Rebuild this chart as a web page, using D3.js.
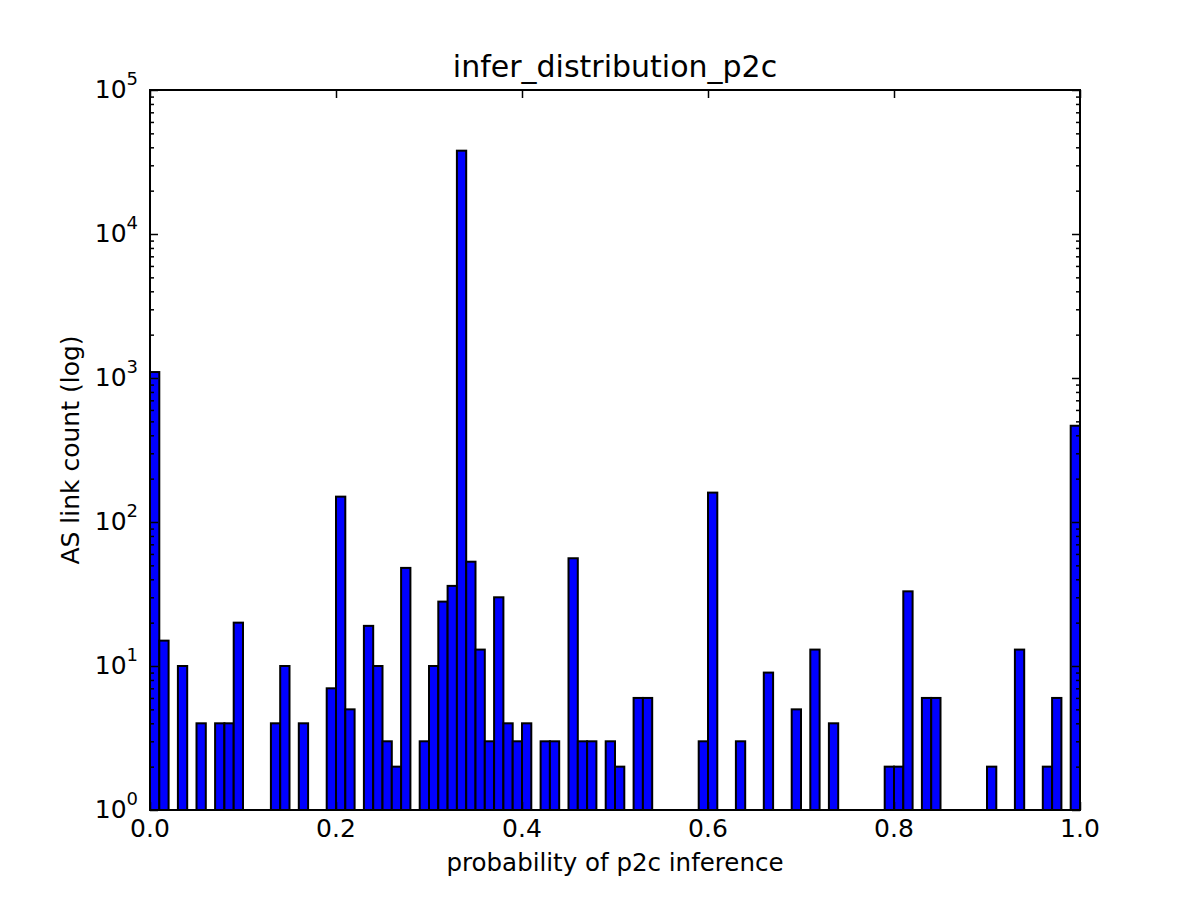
<!DOCTYPE html>
<html>
<head>
<meta charset="utf-8">
<script src="https://cdn.jsdelivr.net/npm/d3@7"></script>
<style>
  body { margin: 0; background: #fff; }
  svg text { font-family: "DejaVu Sans", sans-serif; fill: #000; }
</style>
</head>
<body>
<svg id="chart" width="1200" height="900"></svg>
<script>
// histogram of p2c inference probability, 100 bins on [0, 1]
const binCount = 100;
const counts = [
  1100, 15, 0, 10, 0, 4, 0, 4, 4, 20,
  0, 0, 0, 4, 10, 0, 4, 0, 0, 7,
  150, 5, 0, 19, 10, 3, 2, 48, 0, 3,
  10, 28, 36, 37900, 53, 13, 3, 30, 4, 3,
  4, 0, 3, 3, 0, 56, 3, 3, 0, 3,
  2, 0, 6, 6, 0, 0, 0, 0, 0, 3,
  160, 0, 0, 3, 0, 0, 9, 0, 0, 5,
  0, 13, 0, 4, 0, 0, 0, 0, 0, 2,
  2, 33, 0, 6, 6, 0, 0, 0, 0, 0,
  2, 0, 0, 13, 0, 0, 2, 6, 0, 466
];
const xTicks = [0, 0.2, 0.4, 0.6, 0.8, 1.0];
const yTicks = [1, 10, 100, 1000, 10000, 100000];

const titleText = "infer_distribution_p2c";
const xLabel = "probability of p2c inference";
const yLabel = "AS link count (log)";

const svg = d3.select("#chart");
const mLeft = 150, mRight = 1080, mTop = 90, mBottom = 810;

const x = d3.scaleLinear().domain([0, 1]).range([mLeft, mRight]);
const y = d3.scaleLog().domain([1, 1e5]).range([mBottom, mTop]);

// bars (skip empty bins, they vanish on a log axis)
const bins = counts.map((c, i) => ({ x0: i / binCount, x1: (i + 1) / binCount, c }))
  .filter(d => d.c > 0);

svg.append("g")
  .selectAll("rect")
  .data(bins)
  .join("rect")
  .attr("x", d => x(d.x0))
  .attr("width", d => x(d.x1) - x(d.x0))
  .attr("y", d => y(d.c))
  .attr("height", d => y(1) - y(d.c))
  .attr("fill", "#0000ff")
  .attr("stroke", "#000")
  .attr("stroke-width", 2);

// minor log ticks
const minor = y.ticks().filter(v => !yTicks.includes(v));

// inward ticks on all four sides
const axes = svg.append("g");
const addAxis = (axis, tx, ty) => axes.append("g")
  .attr("transform", `translate(${tx},${ty})`)
  .call(axis)
  .call(g => g.select(".domain").remove())
  .call(g => g.selectAll("line").attr("stroke", "#000").attr("stroke-width", 1.5));

addAxis(d3.axisBottom(x).tickValues(xTicks).tickSize(-8).tickFormat(""), 0, mBottom);
addAxis(d3.axisTop(x).tickValues(xTicks).tickSize(-8).tickFormat(""), 0, mTop);
addAxis(d3.axisLeft(y).tickValues(yTicks).tickSize(-8).tickFormat(""), mLeft, 0);
addAxis(d3.axisRight(y).tickValues(yTicks).tickSize(-8).tickFormat(""), mRight, 0);
addAxis(d3.axisLeft(y).tickValues(minor).tickSize(-4).tickFormat(""), mLeft, 0);
addAxis(d3.axisRight(y).tickValues(minor).tickSize(-4).tickFormat(""), mRight, 0);

// frame
svg.append("rect")
  .attr("x", mLeft).attr("y", mTop)
  .attr("width", mRight - mLeft).attr("height", mBottom - mTop)
  .attr("fill", "none").attr("stroke", "#000").attr("stroke-width", 2);

// tick labels
svg.append("g").selectAll("text")
  .data(xTicks)
  .join("text")
  .attr("x", d => x(d))
  .attr("y", mBottom + 27)
  .attr("text-anchor", "middle")
  .attr("font-size", 25)
  .text(d => d.toFixed(1));

const yl = svg.append("g").selectAll("text")
  .data(yTicks)
  .join("text")
  .attr("x", mLeft - 12)
  .attr("y", d => y(d) + 8)
  .attr("text-anchor", "end")
  .attr("font-size", 25);
yl.append("tspan").text("10");
yl.append("tspan")
  .attr("dy", -13)
  .attr("font-size", 18)
  .text(d => Math.round(Math.log10(d)));

// title and axis labels
svg.append("text")
  .attr("x", (mLeft + mRight) / 2).attr("y", 77)
  .attr("text-anchor", "middle")
  .attr("font-size", 30)
  .text(titleText);

svg.append("text")
  .attr("x", (mLeft + mRight) / 2).attr("y", 871)
  .attr("text-anchor", "middle")
  .attr("font-size", 24.5)
  .text(xLabel);

svg.append("text")
  .attr("transform", `translate(79,${(mTop + mBottom) / 2}) rotate(-90)`)
  .attr("text-anchor", "middle")
  .attr("font-size", 25)
  .text(yLabel);
</script>
</body>
</html>
